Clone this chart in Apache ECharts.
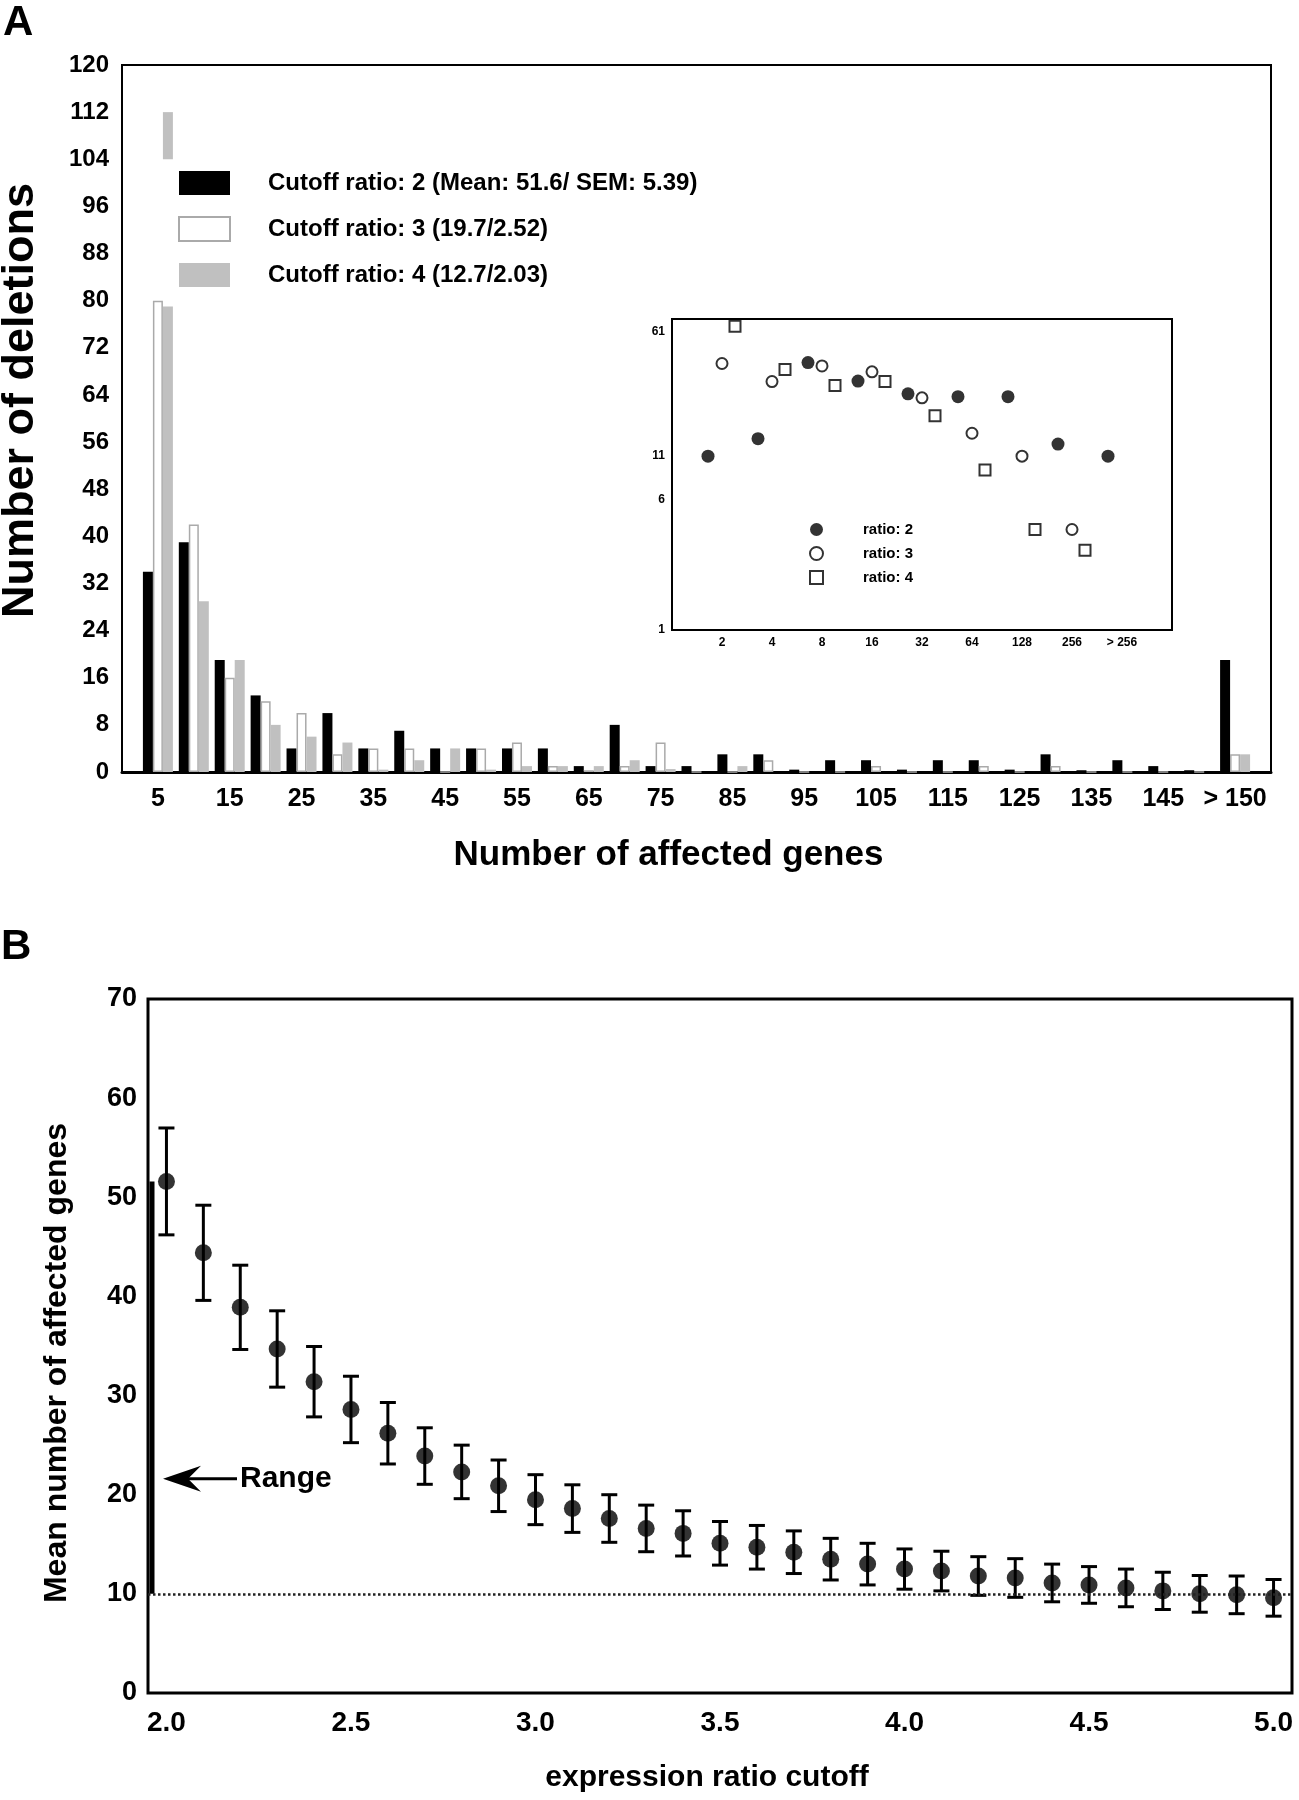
<!DOCTYPE html>
<html lang="en">
  <head>
    <meta charset="UTF-8" />
    <title>Deletions and affected genes</title>
    <style>
      body {
        margin: 0;
        background: #fff;
      }
      #main {
        width: 1299px;
        height: 1800px;
      }
    </style>
  </head>
  <body>
    <div id="main"></div>
    <script src="https://cdn.jsdelivr.net/npm/echarts@6.0.0/dist/echarts.min.js"></script>

    <script>
      // ---- panel A: histogram of affected genes per deletion ----
      const geneBins = ["5", "10", "15", "20", "25", "30", "35", "40", "45", "50", "55", "60", "65", "70", "75", "80",
        "85", "90", "95", "100", "105", "110", "115", "120", "125", "130", "135", "140", "145", "150", "> 150"];
      const delRatio2 = [34, 39, 19, 13, 4, 10, 4, 7, 4, 4, 4, 4, 1, 8, 1, 1, 3, 3, 0.4, 2, 2, 0.4, 2, 2, 0.4, 3, 0.3, 2, 1, 0.3, 19];
      const delRatio3 = [80, 42, 16, 12, 10, 3, 4, 4, 0, 4, 5, 1, 0.3, 1, 5, 0, 0, 2, 0, 0, 1, 0, 0, 1, 0, 1, 0, 0, 0, 0, 3];
      const delRatio4 = [112, 29, 19, 8, 6, 5, 0.4, 2, 4, 0.4, 1, 1, 1, 2, 0.5, 0, 1, 0, 0, 0, 0, 0, 0, 0, 0, 0, 0, 0, 0, 0, 3];
      const ratio4Break = [79, 104]; // tallest grey bar is drawn broken between these values
      const legendA = [
        "Cutoff ratio: 2 (Mean: 51.6/ SEM: 5.39)",
        "Cutoff ratio: 3 (19.7/2.52)",
        "Cutoff ratio: 4 (12.7/2.03)",
      ];

      // ---- inset: log-scale counts ----
      const insetBins = ["2", "4", "8", "16", "32", "64", "128", "256", "> 256"];
      const inset2 = [11, 14, 40, 31, 26, 25, 25, 13, 11];
      const inset3 = [39.5, 30.8, 38.2, 35.2, 24.6, 15.1, 11, 4, null];
      const inset4 = [66, 36.4, 29.2, 30.8, 19.2, 9.1, 4, 3, null];
      const insetTicks = [1, 6, 11, 61];
      const legendInset = ["ratio: 2", "ratio: 3", "ratio: 4"];

      // ---- panel B: mean number of affected genes ----
      const cutoffs = [2.0, 2.1, 2.2, 2.3, 2.4, 2.5, 2.6, 2.7, 2.8, 2.9, 3.0, 3.1, 3.2, 3.3, 3.4, 3.5,
        3.6, 3.7, 3.8, 3.9, 4.0, 4.1, 4.2, 4.3, 4.4, 4.5, 4.6, 4.7, 4.8, 4.9, 5.0];
      const meanGenes = [51.6, 44.4, 38.9, 34.7, 31.4, 28.6, 26.2, 23.9, 22.3, 20.9, 19.5, 18.6, 17.6, 16.6, 16.1, 15.1,
        14.7, 14.2, 13.5, 13.0, 12.5, 12.3, 11.8, 11.6, 11.1, 10.9, 10.6, 10.3, 10.0, 9.9, 9.6];
      const semGenes = [5.39, 4.8, 4.25, 3.85, 3.55, 3.35, 3.1, 2.85, 2.7, 2.6, 2.52, 2.4, 2.4, 2.35, 2.28, 2.2,
        2.2, 2.15, 2.1, 2.1, 2.03, 2.0, 1.95, 1.95, 1.9, 1.85, 1.9, 1.88, 1.85, 1.9, 1.85];
      const rangeLimits = [10, 51.6];
      const baselineLevel = 10;
      const rangeArrowAt = 21.6;

      const FONT = '"Liberation Sans", Arial, sans-serif';
      const bold = (size) => ({ fontSize: size, fontWeight: "bold", color: "#000", fontFamily: FONT });

      // bar x positions: bin i sits at i + 1 on a 0..32 axis
      const pos = (arr) => arr.map((v, i) => [i + 1, v]);
      const r4Low = delRatio4.map((v, i) => [i + 1, Math.min(v, ratio4Break[0])]);
      const r4Pieces = delRatio4
        .map((v, i) => [i + 1, ratio4Break[1], v])
        .filter((d) => d[2] > ratio4Break[1]);

      // inset markers sit around each bin, ratio 3 on the bin
      const shift = { r2: -0.28, r3: 0, r4: 0.26 };
      const insetPts = (arr, d) => arr.map((v, g) => (v == null ? null : [g + d, v])).filter(Boolean);

      const BAR_W = 10;
      const barBase = { type: "bar", xAxisIndex: 0, yAxisIndex: 0, barWidth: BAR_W, barGap: "0%" };
      const gridBase = { show: true, borderColor: "#000", containLabel: false, outerBoundsMode: "none" };

      const myChart = echarts.init(document.getElementById("main"));
      const option = {
        animation: false,
        backgroundColor: "#fff",
        textStyle: { fontFamily: FONT },
        graphic: [
          { type: "text", left: 3, top: 2, style: { text: "A", fill: "#000", font: "bold 42px " + FONT } },
          { type: "text", left: 1, top: 926, style: { text: "B", fill: "#000", font: "bold 42px " + FONT } },
        ],
        legend: [
          {
            data: legendA,
            orient: "vertical",
            left: 173,
            top: 166,
            itemWidth: 51,
            itemHeight: 24,
            itemGap: 21,
            icon: "rect",
            selectedMode: false,
            textStyle: { ...bold(24), padding: [0, 0, 0, 33] },
          },
          {
            data: legendInset,
            orient: "vertical",
            left: 804,
            top: 517,
            itemWidth: 13,
            itemHeight: 13,
            itemGap: 9,
            selectedMode: false,
            textStyle: { ...bold(15), padding: [0, 0, 0, 35] },
          },
        ],
        grid: [
          { ...gridBase, left: 122, top: 65, width: 1149, height: 707, borderWidth: 2 },
          { ...gridBase, left: 672, top: 319, width: 500, height: 311, borderWidth: 2 },
          { ...gridBase, left: 148, top: 999, width: 1144, height: 694, borderWidth: 3 },
        ],
        xAxis: [
          {
            gridIndex: 0,
            type: "value",
            min: 0,
            max: 32,
            interval: 1,
            axisLine: { show: true, lineStyle: { color: "#000", width: 3 } },
            axisTick: { show: false },
            splitLine: { show: false },
            axisLabel: { ...bold(25), margin: 15, formatter: (v) => (v % 2 === 1 ? geneBins[v - 1] : "") },
            name: "Number of affected genes",
            nameLocation: "middle",
            nameGap: 66,
            nameTextStyle: { ...bold(35), padding: [0, 56, 0, 0] },
          },
          {
            gridIndex: 1,
            type: "value",
            min: -1,
            max: 9,
            interval: 1,
            axisLine: { show: false },
            axisTick: { show: false },
            splitLine: { show: false },
            axisLabel: { ...bold(12), margin: 7, formatter: (v) => insetBins[v] || "" },
          },
          {
            gridIndex: 2,
            type: "value",
            min: 1.95,
            max: 5.05,
            interval: 0.05,
            axisLine: { show: false },
            axisTick: { show: false },
            splitLine: { show: false },
            axisLabel: {
              ...bold(28),
              margin: 16,
              formatter: (v) => {
                const k = Math.round(v * 100);
                return k % 50 === 0 ? (k / 100).toFixed(1) : "";
              },
            },
            name: "expression ratio cutoff",
            nameLocation: "middle",
            nameGap: 70,
            nameTextStyle: { ...bold(30), padding: [0, 26, 0, 0] },
          },
        ],
        yAxis: [
          {
            gridIndex: 0,
            type: "value",
            min: 0,
            max: 120,
            interval: 8,
            axisLine: { show: false },
            axisTick: { show: false },
            splitLine: { show: false },
            axisLabel: { ...bold(24), margin: 13 },
            name: "Number of deletions",
            nameLocation: "middle",
            nameGap: 79,
            nameTextStyle: { ...bold(45), padding: [0, 0, 0, 36] },
          },
          {
            gridIndex: 1,
            type: "log",
            logBase: 10,
            min: 1,
            max: 73,
            axisLine: { show: false },
            axisTick: { show: false },
            splitLine: { show: false },
            axisLabel: { ...bold(12), margin: 7, customValues: insetTicks },
          },
          {
            gridIndex: 2,
            type: "value",
            min: 0,
            max: 70,
            interval: 10,
            axisLine: { show: false },
            axisTick: { show: false },
            splitLine: { show: false },
            axisLabel: { ...bold(27), margin: 11 },
            name: "Mean number of affected genes",
            nameLocation: "middle",
            nameGap: 75,
            nameTextStyle: { ...bold(32), padding: [0, 34, 0, 0] },
          },
        ],
        series: [
          // panel A
          { ...barBase, name: legendA[0], data: pos(delRatio2), itemStyle: { color: "#000" } },
          {
            ...barBase,
            name: legendA[1],
            data: pos(delRatio3),
            itemStyle: { color: "#fff", borderColor: "#aaa", borderWidth: 1.5 },
          },
          { ...barBase, name: legendA[2], data: r4Low, itemStyle: { color: "#c0c0c0" } },
          // upper piece of the broken grey bar, in the grey bar's slot
          {
            type: "custom",
            xAxisIndex: 0,
            yAxisIndex: 0,
            data: r4Pieces,
            encode: { x: 0, y: [1, 2] },
            renderItem: (params, api) => {
              const lo = api.coord([api.value(0), api.value(1)]);
              const hi = api.coord([api.value(0), api.value(2)]);
              return {
                type: "rect",
                shape: { x: lo[0] + BAR_W / 2, y: hi[1], width: BAR_W, height: lo[1] - hi[1] },
                style: { fill: "#c0c0c0" },
              };
            },
          },

          // inset
          {
            name: legendInset[0],
            type: "scatter",
            xAxisIndex: 1,
            yAxisIndex: 1,
            symbol: "circle",
            symbolSize: 13,
            itemStyle: { color: "#000" },
            data: insetPts(inset2, shift.r2),
          },
          {
            name: legendInset[1],
            type: "scatter",
            xAxisIndex: 1,
            yAxisIndex: 1,
            symbol: "circle",
            symbolSize: 11,
            itemStyle: { color: "#fff", borderColor: "#000", borderWidth: 2 },
            data: insetPts(inset3, shift.r3),
          },
          {
            name: legendInset[2],
            type: "scatter",
            xAxisIndex: 1,
            yAxisIndex: 1,
            symbol: "rect",
            symbolSize: 11,
            itemStyle: { color: "#fff", borderColor: "#000", borderWidth: 2 },
            data: insetPts(inset4, shift.r4),
          },

          // panel B: error bars
          {
            type: "custom",
            xAxisIndex: 2,
            yAxisIndex: 2,
            dimensions: ["cutoff", "mean", "sem"],
            encode: { x: 0, y: 1 },
            data: cutoffs.map((c, i) => [c, meanGenes[i], semGenes[i]]),
            renderItem: (params, api) => {
              const x = api.value(0);
              const m = api.value(1);
              const s = api.value(2);
              const top = api.coord([x, m + s]);
              const bot = api.coord([x, m - s]);
              const cap = 8;
              const style = { stroke: "#000", lineWidth: 3 };
              return {
                type: "group",
                children: [
                  { type: "line", shape: { x1: top[0], y1: top[1], x2: bot[0], y2: bot[1] }, style },
                  { type: "line", shape: { x1: top[0] - cap, y1: top[1], x2: top[0] + cap, y2: top[1] }, style },
                  { type: "line", shape: { x1: bot[0] - cap, y1: bot[1], x2: bot[0] + cap, y2: bot[1] }, style },
                ],
              };
            },
            z: 3,
          },
          // panel B: means
          {
            type: "scatter",
            xAxisIndex: 2,
            yAxisIndex: 2,
            symbol: "circle",
            symbolSize: 17,
            itemStyle: { color: "#000" },
            data: cutoffs.map((c, i) => [c, meanGenes[i]]),
            z: 4,
            markLine: {
              silent: true,
              symbol: "none",
              label: { show: false },
              lineStyle: { type: "dotted", color: "#222", width: 2.5 },
              data: [{ yAxis: baselineLevel }],
            },
          },
          // panel B: range bar along the left edge
          {
            type: "custom",
            xAxisIndex: 2,
            yAxisIndex: 2,
            data: [[cutoffs[0], rangeLimits[0], rangeLimits[1]]],
            encode: { x: 0, y: [1, 2] },
            renderItem: (params, api) => {
              const x = params.coordSys.x + 4;
              const lo = api.coord([api.value(0), api.value(1)])[1];
              const hi = api.coord([api.value(0), api.value(2)])[1];
              return {
                type: "line",
                shape: { x1: x, y1: lo, x2: x, y2: hi },
                style: { stroke: "#000", lineWidth: 5 },
              };
            },
          },
          // panel B: "Range" arrow
          {
            type: "custom",
            xAxisIndex: 2,
            yAxisIndex: 2,
            data: [[cutoffs[0], rangeArrowAt]],
            encode: { x: 0, y: 1 },
            renderItem: (params, api) => {
              const y = api.coord([api.value(0), api.value(1)])[1];
              const x0 = params.coordSys.x + 15;
              return {
                type: "group",
                children: [
                  {
                    type: "line",
                    shape: { x1: x0 + 20, y1: y, x2: x0 + 74, y2: y },
                    style: { stroke: "#000", lineWidth: 3 },
                  },
                  {
                    type: "polygon",
                    shape: { points: [[x0, y], [x0 + 38, y - 13], [x0 + 25, y], [x0 + 38, y + 13]] },
                    style: { fill: "#000" },
                  },
                  {
                    type: "text",
                    x: x0 + 77,
                    y: y,
                    style: { text: "Range", font: "bold 30px " + FONT, fill: "#000", verticalAlign: "middle" },
                  },
                ],
              };
            },
          },
        ],
      };
      myChart.setOption(option);
    </script>
  </body>
</html>
